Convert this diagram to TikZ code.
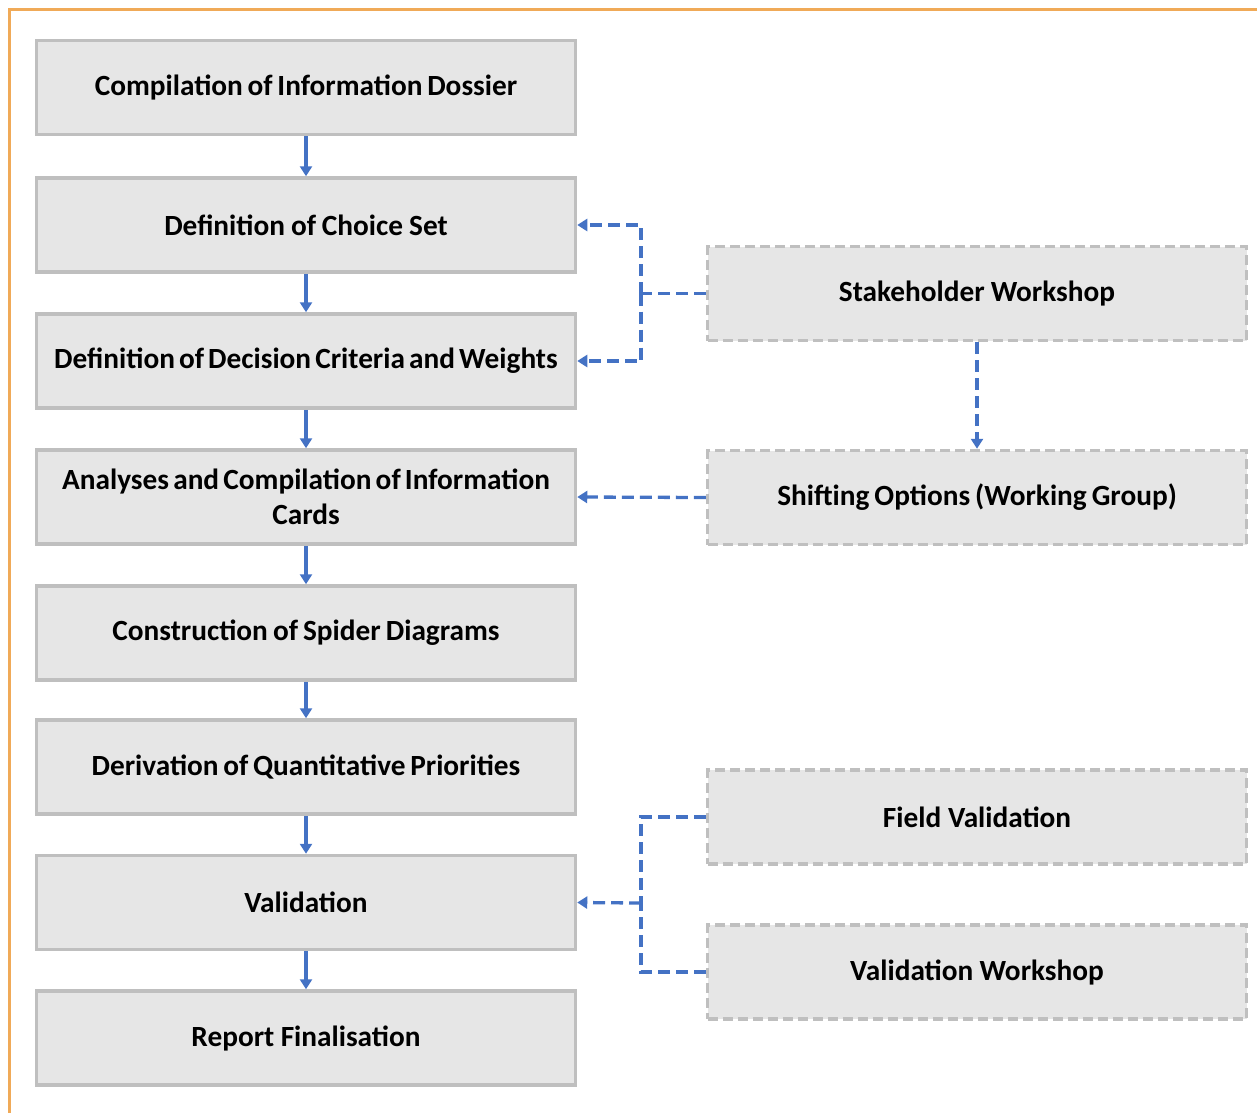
\documentclass[tikz,border=0pt]{standalone}
\usepackage{fontspec}
\setmainfont{Carlito}
\usetikzlibrary{arrows.meta}
\definecolor{frameorange}{HTML}{F0AA58}
\definecolor{boxline}{HTML}{BFBFBF}
\definecolor{boxfill}{HTML}{E6E6E6}
\definecolor{flowblue}{HTML}{4472C4}
% bold box font with tight word spacing
\newcommand{\boxfont}{\fontsize{29.3}{35}\selectfont\bfseries}
\newcommand{\tightwords}{\spaceskip=3.8pt plus 1pt minus 0.5pt\xspaceskip=3.8pt\relax}
\tikzset{
  stepbox/.style={draw=boxline, line width=3.5pt, fill=boxfill,
    minimum width=539pt, minimum height=94pt, text width=537pt,
    align=center, inner sep=0pt, font=\boxfont,
    execute at begin node=\tightwords},
  sidebox/.style={stepbox, dash pattern=on 10pt off 5pt},
  flow/.style={draw=flowblue, line width=3.3pt, -{Triangle[length=10pt,width=12pt]}},
  dflow/.style={draw=flowblue, line width=3.3pt, dash pattern=on 12pt off 6pt},
  dtip/.style={-{Triangle[length=10pt,width=12pt]}}
}
\begin{document}
\begin{tikzpicture}[x=1pt,y=-1pt]
\useasboundingbox (0,0) rectangle (1257,1112);
% page frame, running off the right and bottom edges
\begin{scope}
  \clip (0,0) rectangle (1257,1112);
  \draw[frameorange, line width=3pt] (9.5,9.5) rectangle (1300,1200);
\end{scope}

% main sequence
\node[stepbox] (dossier) at (306,87.5)  {Compilation of Information Dossier};
\node[stepbox] (choice)  at (306,225)   {Definition of Choice Set};
\node[stepbox] (crit)    at (306,361)   {Definition of Decision Criteria and Weights};
\node[stepbox] (cards)   at (306,497)   {Analyses and Compilation of Information\\Cards};
\node[stepbox] (spider)  at (306,633)   {Construction of Spider Diagrams};
\node[stepbox] (prio)    at (306,767)   {Derivation of Quantitative Priorities};
\node[stepbox] (valid)   at (306,902.5) {Validation};
\node[stepbox] (report)  at (306,1038)  {Report Finalisation};

% side activities
\node[sidebox] (stake)  at (977,293.5) {Stakeholder Workshop};
\node[sidebox] (shift)  at (977,497.5) {Shifting Options (Working Group)};
\node[sidebox] (field)  at (977,817)   {Field Validation};
\node[sidebox] (vwork)  at (977,972)   {Validation Workshop};

% solid flow between steps
\draw[flow] (dossier) -- (choice);
\draw[flow] (choice) -- (crit);
\draw[flow] (crit) -- (cards);
\draw[flow] (cards) -- (spider);
\draw[flow] (spider) -- (prio);
\draw[flow] (prio) -- (valid);
\draw[flow] (valid) -- (report);

% stakeholder input
\coordinate (jstake) at (641,293.5);
\draw[dflow] (stake.west) -- (jstake);
\draw[dflow,dtip] (jstake) |- (choice.east);
\draw[dflow,dtip] (jstake) |- (crit.east);
\draw[dflow,dtip] (stake.south) -- (shift.north);
\draw[dflow,dtip] (shift.west) -- (cards.east);

% validation inputs
\coordinate (jvalid) at (641,903);
\draw[dflow] (field.west) -| (jvalid);
\draw[dflow] (vwork.west) -| (jvalid);
\draw[dflow,dtip] (jvalid) -- (valid.east);
\end{tikzpicture}
\end{document}
